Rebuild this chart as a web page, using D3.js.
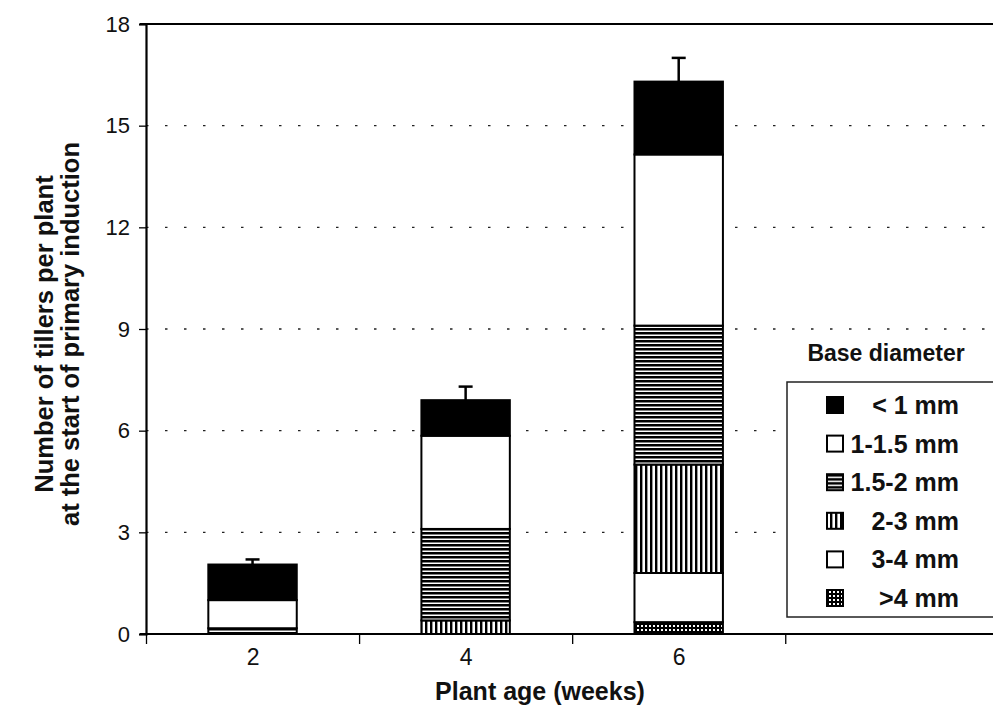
<!DOCTYPE html>
<html>
<head>
<meta charset="utf-8">
<script src="https://cdn.jsdelivr.net/npm/d3@7"></script>
<style>
  html, body { margin: 0; padding: 0; background: #fff; }
  svg { display: block; }
  text { font-family: "Liberation Sans", Arial, sans-serif; fill: #111; }
</style>
</head>
<body>
<svg id="chart" width="993" height="727"></svg>
<script>
// Plant age (weeks) at sampling
const weeks = [2, 4, 6];

// Tillers per plant by base diameter class (stacked bottom to top)
const over4 = [0, 0, 0.35];
const d3to4 = [0, 0, 1.45];
const d2to3 = [0, 0.4, 3.2];
const d15to2 = [0.17, 2.7, 4.1];
const d1to15 = [0.83, 2.75, 5.05];
const under1 = [1.05, 1.05, 2.15];

// Standard error of the total
const totalErr = [0.15, 0.4, 0.7];

const yTicks = [0, 3, 6, 9, 12, 15, 18];
const xBoundaries = [1, 3, 5, 7];

const seriesKeys = ["over4", "d3to4", "d2to3", "d15to2", "d1to15", "under1"];
const seriesVals = { over4, d3to4, d2to3, d15to2, d1to15, under1 };
const fills = {
  over4: "url(#grid)",
  d3to4: "#fff",
  d2to3: "url(#vlines)",
  d15to2: "url(#hlines)",
  d1to15: "#fff",
  under1: "#000"
};
// Legend entries, top to bottom
const legendItems = [
  { key: "under1", label: "< 1 mm" },
  { key: "d1to15", label: "1-1.5 mm" },
  { key: "d15to2", label: "1.5-2 mm" },
  { key: "d2to3", label: "2-3 mm" },
  { key: "d3to4", label: "3-4 mm" },
  { key: "over4", label: ">4 mm" }
];

const table = weeks.map((w, i) => {
  const row = { week: w };
  seriesKeys.forEach(k => row[k] = seriesVals[k][i]);
  return row;
});

const svg = d3.select("#chart");

// Fill patterns
const defs = svg.append("defs");
const hp = defs.append("pattern").attr("id", "hlines")
  .attr("patternUnits", "userSpaceOnUse").attr("width", 8).attr("height", 4);
hp.append("rect").attr("width", 8).attr("height", 4).attr("fill", "#fff");
hp.append("rect").attr("y", 0).attr("width", 8).attr("height", 2.5).attr("fill", "#000");

const vp = defs.append("pattern").attr("id", "vlines")
  .attr("patternUnits", "userSpaceOnUse").attr("width", 5).attr("height", 8);
vp.append("rect").attr("width", 5).attr("height", 8).attr("fill", "#fff");
vp.append("rect").attr("x", 0).attr("width", 2.4).attr("height", 8).attr("fill", "#000");

const gp = defs.append("pattern").attr("id", "grid")
  .attr("patternUnits", "userSpaceOnUse").attr("width", 4).attr("height", 4);
gp.append("rect").attr("width", 4).attr("height", 4).attr("fill", "#000");
gp.append("rect").attr("x", 1).attr("y", 1).attr("width", 2).attr("height", 2).attr("fill", "#fff");

const x = d3.scaleLinear().domain([1, 8.95]).range([146, 993]);
const y = d3.scaleLinear().domain([0, 18]).range([634, 24]);
const barW = x(1.83) - x(1);

// Dotted gridlines
svg.append("g").selectAll("line")
  .data(yTicks.filter(t => t > 0 && t < 18))
  .join("line")
  .attr("x1", x(1)).attr("x2", 993)
  .attr("y1", d => y(d)).attr("y2", d => y(d))
  .attr("stroke", "#222").attr("stroke-width", 1.3)
  .attr("stroke-dasharray", "2.5,16.5");

// Top frame line
svg.append("line")
  .attr("x1", x(1) - 6).attr("x2", 993)
  .attr("y1", y(18)).attr("y2", y(18))
  .attr("stroke", "#000").attr("stroke-width", 2);

// Stacked bars
const stacked = d3.stack().keys(seriesKeys)(table);
const barsG = svg.append("g");
stacked.forEach(layer => {
  barsG.append("g").selectAll("rect")
    .data(layer.filter(d => d[1] - d[0] > 0))
    .join("rect")
    .attr("x", d => x(d.data.week) - barW / 2)
    .attr("width", barW)
    .attr("y", d => y(d[1]))
    .attr("height", d => y(d[0]) - y(d[1]))
    .attr("fill", fills[layer.key])
    .attr("stroke", "#000").attr("stroke-width", 2);
});

// Error bars
const totals = table.map(r => d3.sum(seriesKeys, k => r[k]));
const errG = svg.append("g").attr("stroke", "#000").attr("stroke-width", 2.5);
weeks.forEach((w, i) => {
  errG.append("line")
    .attr("x1", x(w)).attr("x2", x(w))
    .attr("y1", y(totals[i])).attr("y2", y(totals[i] + totalErr[i]));
  errG.append("line")
    .attr("x1", x(w) - 7).attr("x2", x(w) + 7)
    .attr("y1", y(totals[i] + totalErr[i])).attr("y2", y(totals[i] + totalErr[i]));
});

// Y axis
const yAxis = svg.append("g").attr("transform", `translate(${x(1)},0)`)
  .call(d3.axisLeft(y).tickValues(yTicks).tickSize(7).tickPadding(9));
yAxis.select(".domain").attr("stroke", "#000").attr("stroke-width", 2.2);
yAxis.selectAll(".tick line").attr("stroke", "#000").attr("stroke-width", 1.3);
yAxis.selectAll(".tick text")
  .style("font-size", "22px").style("font-family", "'Liberation Sans', Arial, sans-serif")
  .attr("fill", "#111");

// X axis: boundary ticks
const xAxis = svg.append("g").attr("transform", `translate(0,${y(0)})`)
  .call(d3.axisBottom(x).tickValues(xBoundaries).tickSize(10).tickFormat(""));
xAxis.select(".domain").remove();
xAxis.selectAll(".tick line").attr("stroke", "#000").attr("stroke-width", 1.3);
svg.append("line")
  .attr("x1", x(1) - 6).attr("x2", 993)
  .attr("y1", y(0)).attr("y2", y(0))
  .attr("stroke", "#000").attr("stroke-width", 2);

// X category labels
const xLab = svg.append("g").attr("transform", `translate(0,${y(0)})`)
  .call(d3.axisBottom(x).tickValues(weeks).tickSize(0).tickPadding(15).tickFormat(d3.format("d")));
xLab.select(".domain").remove();
xLab.selectAll(".tick text")
  .style("font-size", "23px").style("font-family", "'Liberation Sans Narrow', 'Liberation Sans', Arial, sans-serif")
  .attr("fill", "#111");

// Axis titles
svg.append("text")
  .attr("x", 540).attr("y", 700)
  .attr("text-anchor", "middle")
  .style("font-size", "25px").style("font-weight", "bold")
  .style("font-family", "'Liberation Sans Narrow', 'Liberation Sans', Arial, sans-serif")
  .text("Plant age (weeks)");

const yTitle = svg.append("text")
  .attr("transform", "translate(0,334) rotate(-90)")
  .attr("text-anchor", "middle")
  .style("font-size", "25.5px").style("font-weight", "bold");
yTitle.append("tspan").attr("x", 0).attr("y", 53).text("Number of tillers per plant");
yTitle.append("tspan").attr("x", 0).attr("y", 79).text("at the start of primary induction");

// Legend
svg.append("text")
  .attr("x", 886).attr("y", 361)
  .attr("text-anchor", "middle")
  .style("font-size", "23px").style("font-weight", "bold")
  .text("Base diameter");

svg.append("rect")
  .attr("x", 787).attr("y", 382).attr("width", 220).attr("height", 235)
  .attr("fill", "#fff").attr("stroke", "#222").attr("stroke-width", 1.5);

const legY = d3.scalePoint().domain(legendItems.map(d => d.label)).range([405, 598]);
const legG = svg.append("g").selectAll("g").data(legendItems).join("g")
  .attr("transform", d => `translate(0,${legY(d.label)})`);
legG.append("rect")
  .attr("x", 827).attr("y", -8).attr("width", 16).attr("height", 16)
  .attr("fill", d => fills[d.key]).attr("stroke", "#000").attr("stroke-width", 2);
legG.append("text")
  .attr("x", 959).attr("y", 9)
  .attr("text-anchor", "end")
  .style("font-size", "25px").style("font-weight", "bold")
  .text(d => d.label);
</script>
</body>
</html>
